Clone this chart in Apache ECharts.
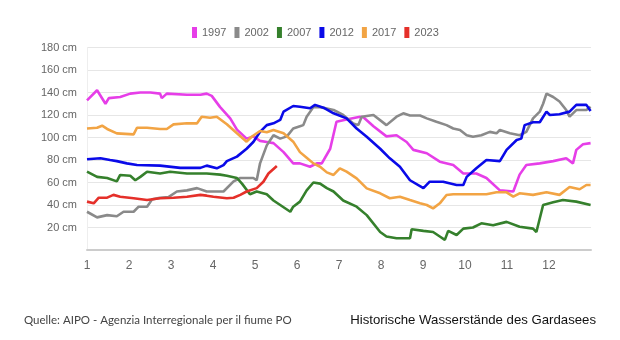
<!DOCTYPE html>
<html>
<head>
<meta charset="utf-8">
<script src="https://cdn.jsdelivr.net/npm/echarts@6/dist/echarts.min.js"></script>
<style>
html,body{margin:0;padding:0;background:#fff;}
#chart{width:620px;height:340px;}
</style>
</head>
<body>
<div id="chart"></div>
<script>
// Month (1 = Jan, 13 = end of Dec) and water level in cm
const years = ['1997', '2002', '2007', '2012', '2017', '2023'];
const monthTicks = ['1','2','3','4','5','6','7','8','9','10','11','12'];

const s1997 = [[1.00,133],[1.24,142],[1.44,130],[1.52,135],[1.79,136],[2.03,139],[2.27,140],[2.51,140],[2.74,139],[2.78,135],[2.90,139],[3.38,138],[3.70,138],[3.85,139],[3.97,137],[4.17,127],[4.41,117],[4.57,107],[4.80,99],[4.96,101],[5.12,97],[5.28,96],[5.44,95],[5.68,87],[5.91,77],[6.07,77],[6.31,74],[6.47,77],[6.59,77],[6.79,90],[6.94,114],[7.18,116],[7.50,118.5],[7.58,118],[7.82,110],[8.13,101],[8.37,102],[8.61,96],[8.77,89],[9.09,86],[9.40,78.5],[9.72,75.5],[9.96,68],[10.27,68],[10.51,64],[10.83,53],[11.15,52],[11.30,67],[11.46,75.5],[11.78,77],[12.10,79],[12.41,81.5],[12.57,77],[12.65,89],[12.81,94],[12.99,95]];

const s2002 = [[1.00,34],[1.24,29],[1.48,31],[1.71,30],[1.87,34],[2.11,34],[2.23,38.5],[2.43,38.5],[2.55,45],[2.74,46.5],[2.94,47],[3.14,52],[3.38,53],[3.62,55],[3.85,52],[4.25,52],[4.49,61],[4.65,64],[4.96,64],[5.04,62],[5.12,77],[5.28,93],[5.44,102],[5.60,99],[5.76,101],[5.91,108],[6.07,110],[6.15,111],[6.23,118.5],[6.39,127],[6.55,127],[6.87,124.5],[7.10,120],[7.34,112.5],[7.46,111],[7.54,118.5],[7.82,120],[8.13,111],[8.37,118.5],[8.53,121.5],[8.69,119.5],[8.93,119.5],[9.09,117],[9.32,114],[9.56,111],[9.72,108],[9.88,106.7],[10.04,102],[10.19,100.7],[10.39,102],[10.59,105],[10.75,103.7],[10.83,106.7],[11.07,103.7],[11.30,102],[11.46,105],[11.62,117],[11.78,123],[11.86,130],[11.94,139],[12.10,136],[12.25,132],[12.41,124.4],[12.49,118.5],[12.65,124.4],[12.89,124.4],[12.99,127.4]];

const s2007 = [[1.00,69.6],[1.24,65],[1.48,64],[1.71,61],[1.79,66.7],[2.03,66],[2.15,62],[2.27,65],[2.43,69.6],[2.74,68],[2.98,69.6],[3.38,68],[3.85,68],[4.17,67],[4.33,66],[4.57,64],[4.69,59],[4.88,49.5],[5.04,52],[5.28,49.5],[5.44,44],[5.60,40],[5.84,34],[5.91,38.5],[6.07,43],[6.23,53],[6.39,60],[6.55,59],[6.71,55],[6.87,52],[7.10,44],[7.42,38.5],[7.66,31],[7.98,16],[8.13,12],[8.37,10.4],[8.69,10.4],[8.73,18.4],[9.01,17],[9.24,16],[9.40,12],[9.52,9],[9.60,17],[9.80,13.3],[9.96,19],[10.19,20],[10.39,23.7],[10.67,22],[10.99,25],[11.30,20.7],[11.62,19],[11.70,16],[11.78,28],[11.86,40],[12.10,42.4],[12.33,44.4],[12.65,43],[12.99,40]];

const s2012 = [[1.00,80.6],[1.32,81.5],[1.55,80],[1.71,79],[1.95,77],[2.19,75.5],[2.74,75],[3.22,73],[3.70,73],[3.85,75],[4.09,72.6],[4.25,75.5],[4.33,79],[4.57,83],[4.80,90],[4.96,96],[5.12,105],[5.28,111],[5.44,112.6],[5.60,115.6],[5.68,123],[5.91,128],[6.07,127.4],[6.31,126],[6.43,129],[6.63,126.5],[6.87,121.5],[7.18,117],[7.42,108],[7.66,100.7],[7.98,90],[8.21,81.5],[8.45,74],[8.69,62],[9.01,55],[9.16,60.7],[9.48,60.7],[9.80,57.8],[9.96,57.8],[10.04,65],[10.27,72.6],[10.51,80],[10.83,79],[10.99,89],[11.23,97.8],[11.34,99],[11.42,111],[11.62,113.5],[11.78,113.5],[11.94,123],[12.02,120],[12.25,120.6],[12.49,123],[12.65,129],[12.89,129],[12.99,123.6]];

const s2017 = [[1.00,108],[1.24,108.7],[1.36,110.5],[1.48,107.6],[1.71,103.7],[2.11,102.8],[2.19,108.7],[2.43,108.7],[2.74,107.6],[2.90,107.6],[3.06,111.7],[3.38,112.6],[3.62,112.6],[3.73,118.5],[3.93,117.6],[4.09,118.5],[4.33,111.7],[4.57,103.7],[4.80,96.3],[4.92,100.7],[5.12,105.8],[5.28,104.6],[5.44,106.7],[5.68,103.7],[5.91,96.3],[6.07,87],[6.23,82],[6.39,77],[6.55,74],[6.71,69],[6.87,66.7],[7.02,72.6],[7.18,69.6],[7.42,63.7],[7.66,54.8],[7.98,50.4],[8.21,46],[8.45,47.4],[8.69,44.4],[8.93,41.5],[9.09,40],[9.24,37],[9.40,41.5],[9.56,48.9],[9.72,49.5],[10.51,49.5],[10.75,51.3],[10.99,51.3],[11.15,47.4],[11.30,50.4],[11.62,49],[11.94,51.3],[12.25,49],[12.49,56],[12.73,54],[12.89,57.8],[12.99,57.8]];

const s2023 = [[1.00,43],[1.16,41.5],[1.28,46.5],[1.48,46.5],[1.63,49],[1.79,47.4],[2.11,46],[2.43,44.4],[2.74,46],[3.06,46.5],[3.38,47.4],[3.70,49],[3.85,48.3],[4.01,47.4],[4.33,46],[4.49,46.5],[4.65,49],[4.80,52],[5.04,55],[5.20,60.7],[5.32,68],[5.52,74.7]];

const seriesData = [s1997, s2002, s2007, s2012, s2017, s2023];
const colors = ['#e63ee8', '#8a8a8a', '#35802c', '#0a0ae8', '#f2a444', '#e5302a'];
const sourceText = 'Quelle: AIPO - Agenzia Interregionale per il fiume PO';
const titleText = 'Historische Wasserstände des Gardasees';

const chart = echarts.init(document.getElementById('chart'), null, {renderer: 'canvas'});
chart.setOption({
  animation: false,
  backgroundColor: '#ffffff',
  color: colors,
  title: [
    {text: sourceText, left: 19, top: 309,
     textStyle: {fontFamily: 'Lato', fontSize: 11.5, fontWeight: 'normal', color: '#444'}},
    {text: titleText, right: 19, top: 309,
     textStyle: {fontFamily: 'Liberation Sans, Arial', fontSize: 13.2, fontWeight: 'normal', color: '#111'}}
  ],
  legend: {
    top: 22, left: 187,
    icon: 'rect', itemWidth: 5, itemHeight: 11, itemGap: 8,
    textStyle: {fontFamily: 'Liberation Sans, Arial', fontSize: 11, color: '#666'},
    data: years
  },
  grid: {left: 87, right: 29, top: 47.5, bottom: 90, containLabel: false},
  xAxis: {
    type: 'value', min: 1, max: 13, interval: 1,
    axisLine: {show: true, lineStyle: {color: '#cccccc', width: 2}},
    axisTick: {show: false},
    splitLine: {show: false},
    axisLabel: {
      margin: 10, color: '#666', fontSize: 12, fontFamily: 'Liberation Sans, Arial',
      formatter: v => (v >= 1 && v <= 12) ? monthTicks[v - 1] : ''
    }
  },
  yAxis: {
    type: 'value', min: 0, max: 180, interval: 20,
    axisLine: {show: true, lineStyle: {color: '#eeeeee', width: 1}},
    axisTick: {show: false},
    splitLine: {show: true, lineStyle: {color: '#e6e6e6', width: 1}},
    axisLabel: {
      margin: 10, color: '#666', fontSize: 11, fontFamily: 'Liberation Sans, Arial',
      formatter: v => v === 0 ? '' : v + ' cm'
    }
  },
  series: years.map((y, i) => ({
    name: y, type: 'line', data: seriesData[i],
    showSymbol: false, symbol: 'none', smooth: false,
    lineStyle: {width: 2.6, color: colors[i]},
    itemStyle: {color: colors[i]}
  }))
});
</script>
</body>
</html>
